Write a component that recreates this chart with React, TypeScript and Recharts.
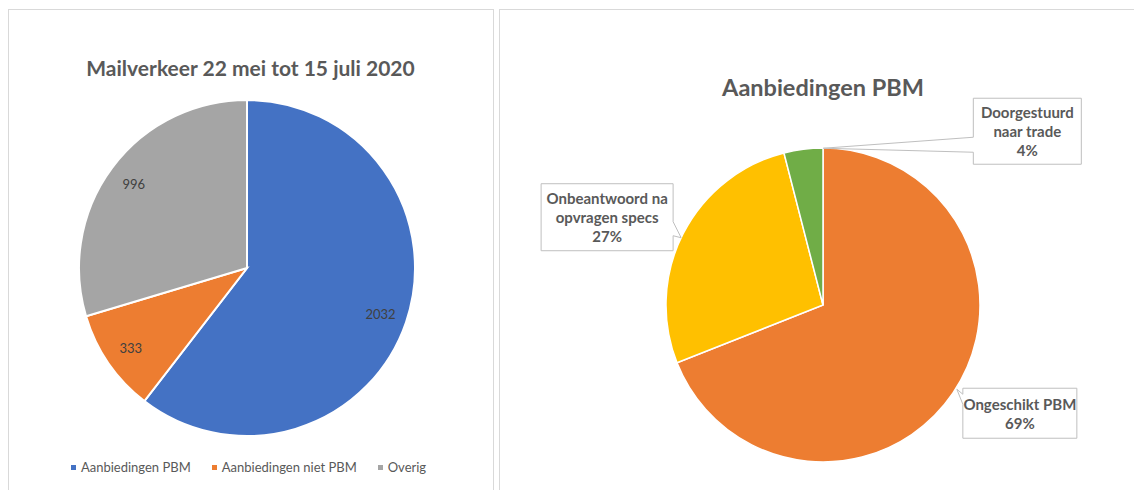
import { PieChart, Pie, Cell, Legend } from 'recharts'

const MAIL_NAMES = ['Aanbiedingen PBM', 'Aanbiedingen niet PBM', 'Overig']
const MAIL_VALUES = [2032, 333, 996]
const MAIL_COLORS = ['#4472C4', '#ED7D31', '#A5A5A5']

const PBM_NAMES = ['Ongeschikt PBM', 'Onbeantwoord na opvragen specs', 'Doorgestuurd naar trade']
const PBM_LINES = [['Ongeschikt PBM'], ['Onbeantwoord na', 'opvragen specs'], ['Doorgestuurd', 'naar trade']]
const PBM_VALUES = [69, 27, 4]
const PBM_COLORS = ['#ED7D31', '#FFC000', '#70AD47']

// callout boxes, placed relative to the slice edge at its mid angle
const CALLOUTS = [
  { dx: 10, dy: -5, w: 114, h: 50, ax: 4, ay: -4, side: 'left', b1: 6, b2: 16 },
  { dx: -142, dy: -50, w: 132, h: 67, ax: -2, ay: 4, side: 'right', b1: 38, b2: 52 },
  { dx: 170, dy: -51, w: 108, h: 66, ax: 20, ay: -1, side: 'left', b1: 39, b2: 54 },
]

const FONT = 'Lato, "Open Sans", sans-serif'
const TEXT = '#595959'
const RAD = Math.PI / 180

const mailData = MAIL_NAMES.map((name, i) => ({ name, value: MAIL_VALUES[i], fill: MAIL_COLORS[i] }))
const pbmData = PBM_NAMES.map((name, i) => ({ name, value: PBM_VALUES[i], fill: PBM_COLORS[i] }))

function renderInside(props: any) {
  const { cx, cy, midAngle, outerRadius, value } = props
  const r = outerRadius * 0.84
  const x = cx + r * Math.cos(-midAngle * RAD)
  const y = cy + r * Math.sin(-midAngle * RAD)
  return (
    <text x={x} y={y} textAnchor="middle" dominantBaseline="central" fill="#404040" fontSize={13} fontFamily={FONT}>
      {value}
    </text>
  )
}

function renderCallout(props: any) {
  const { cx, cy, midAngle, outerRadius, index, value } = props
  const c = CALLOUTS[index]
  const px = cx + outerRadius * Math.cos(-midAngle * RAD)
  const py = cy + outerRadius * Math.sin(-midAngle * RAD)
  const x = px + c.dx
  const y = py + c.dy
  const ax = px + c.ax
  const ay = py + c.ay
  const d =
    c.side === 'left'
      ? `M${x},${y}H${x + c.w}V${y + c.h}H${x}V${y + c.b2}L${ax},${ay}L${x},${y + c.b1}Z`
      : `M${x},${y}H${x + c.w}V${y + c.b1}L${ax},${ay}L${x + c.w},${y + c.b2}V${y + c.h}H${x}Z`
  const lines = [...PBM_LINES[index], `${value}%`]
  const lh = 19
  const top = y + c.h / 2 - ((lines.length - 1) * lh) / 2
  return (
    <g>
      <path d={d} fill="#fff" stroke="#bfbfbf" strokeWidth={1} />
      {lines.map((t, i) => (
        <text
          key={i}
          x={x + c.w / 2}
          y={top + i * lh}
          textAnchor="middle"
          dominantBaseline="central"
          fill={TEXT}
          fontSize={15}
          fontWeight={700}
          fontFamily={FONT}
        >
          {t}
        </text>
      ))}
    </g>
  )
}

function MailLegend() {
  return (
    <div style={{ display: 'flex', justifyContent: 'center', gap: 21, fontFamily: FONT, fontSize: 13, color: TEXT }}>
      {MAIL_NAMES.map((n, i) => (
        <span key={n} style={{ display: 'flex', alignItems: 'center' }}>
          <span style={{ display: 'inline-block', width: 5, height: 5, background: MAIL_COLORS[i], marginRight: 5 }} />
          {n}
        </span>
      ))}
    </div>
  )
}

export default function App() {
  return (
    <div style={{ position: 'absolute', left: 0, top: 0, width: 1134, height: 490, overflow: 'hidden', background: '#fff' }}>
      <div style={{ position: 'absolute', left: 8, top: 9, width: 484, height: 520, border: '1px solid #d9d9d9' }} />
      <div style={{ position: 'absolute', left: 499, top: 9, width: 700, height: 520, border: '1px solid #d9d9d9' }} />

      <div style={{ position: 'absolute', left: 0, top: 0 }}>
        <PieChart width={497} height={490} margin={{ top: 0, right: 0, bottom: 0, left: 0 }}>
          <Pie
            data={mailData}
            dataKey="value"
            nameKey="name"
            cx={247}
            cy={268}
            outerRadius={168}
            startAngle={90}
            endAngle={-270}
            stroke="#fff"
            strokeWidth={2}
            label={renderInside}
            labelLine={false}
            isAnimationActive={false}
          >
            {mailData.map((d) => (
              <Cell key={d.name} fill={d.fill} />
            ))}
          </Pie>
          <Legend verticalAlign="bottom" content={MailLegend} wrapperStyle={{ bottom: 15, left: 0, width: 497 }} />
        </PieChart>
      </div>

      <div style={{ position: 'absolute', left: 497, top: 0 }}>
        <PieChart width={637} height={490} margin={{ top: 0, right: 0, bottom: 0, left: 0 }}>
          <Pie
            data={pbmData}
            dataKey="value"
            nameKey="name"
            cx={326}
            cy={305}
            outerRadius={157}
            startAngle={90}
            endAngle={-270}
            stroke="#fff"
            strokeWidth={1.5}
            label={renderCallout}
            labelLine={false}
            isAnimationActive={false}
          >
            {pbmData.map((d) => (
              <Cell key={d.name} fill={d.fill} />
            ))}
          </Pie>
        </PieChart>
      </div>

      <div style={{ position: 'absolute', left: 8, width: 485, top: 55, lineHeight: '26px', textAlign: 'center', fontFamily: FONT, fontSize: 21, fontWeight: 700, color: TEXT }}>
        Mailverkeer 22 mei tot 15 juli 2020
      </div>
      <div style={{ position: 'absolute', left: 623, width: 400, top: 73, lineHeight: '28px', textAlign: 'center', fontFamily: FONT, fontSize: 23.5, fontWeight: 700, color: TEXT }}>
        Aanbiedingen PBM
      </div>
    </div>
  )
}
